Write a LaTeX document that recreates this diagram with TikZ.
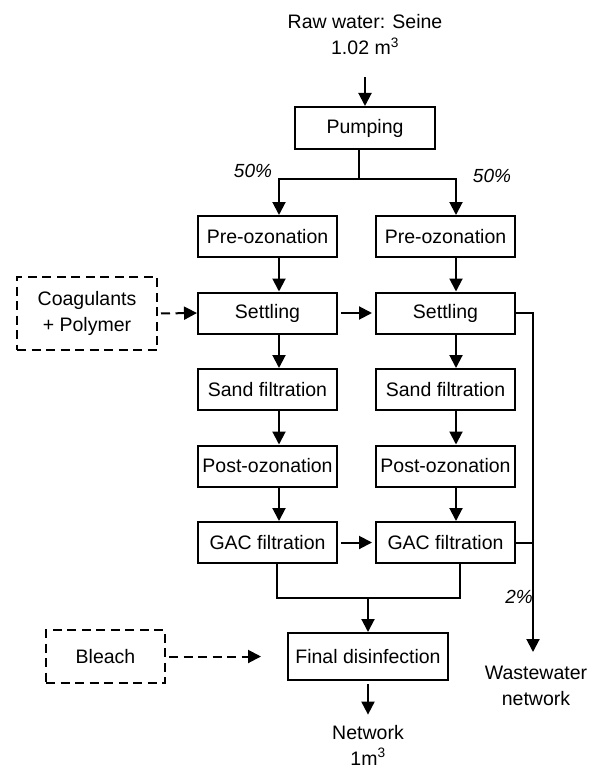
\documentclass[tikz,border=0pt]{standalone}
\usepackage{fontspec}
\setmainfont{Liberation Sans}
\usetikzlibrary{arrows.meta,positioning}

\tikzset{
  stage/.style={draw, minimum width=139pt, minimum height=41pt, inner sep=2pt},
  additive/.style={draw, dash pattern=on 9pt off 5.5pt},
  dashflow/.style={->, dash pattern=on 9pt off 5.5pt},
  pct/.style={font=\fontsize{19}{26}\selectfont\itshape},
}

\begin{document}
\begin{tikzpicture}
[x=1pt,y=-1pt,align=center,node distance=76.5pt,line width=2pt,
 >={Triangle[length=13pt,width=13pt]},font=\fontsize{19.5}{26}\selectfont]
 \useasboundingbox (0,0) rectangle (593,770);

 \node (raw) at (365,35) {Raw water: Seine\\1.02 m\textsuperscript{3}};
 \node[stage, minimum width=140pt, minimum height=42pt] (pump) at (365,128) {Pumping};

 % left line
 \node[stage] (preL) at (267.5,236.5) {Pre-ozonation};
 \node[stage] (setL) [below of=preL] {Settling};
 \node[stage] (sandL) [below of=setL] {Sand filtration};
 \node[stage] (postL) [below of=sandL] {Post-ozonation};
 \node[stage] (gacL) [below of=postL] {GAC filtration};

 % right line
 \node[stage] (preR) [node distance=178pt, right of=preL] {Pre-ozonation};
 \node[stage] (setR) [below of=preR] {Settling};
 \node[stage] (sandR) [below of=setR] {Sand filtration};
 \node[stage] (postR) [below of=sandR] {Post-ozonation};
 \node[stage] (gacR) [below of=postR] {GAC filtration};

 \node[stage, minimum width=160pt, minimum height=47pt] (final) at (368,656.5) {Final disinfection};
 \node (net) at (368,745) {Network\\1m\textsuperscript{3}};
 \node (waste) at (536,686) {Wastewater\\network};

 \node[additive, minimum width=140pt, minimum height=73pt] (coag) at (87,313.5) {Coagulants\\+ Polymer};
 \node[additive, minimum width=119pt, minimum height=53pt] (bleach) at (105.5,656.5) {Bleach};

 \node[pct] (pcL) at (253,171) {50\%};
 \node[pct] (pcR) at (492,176) {50\%};
 \node[pct] (pcW) at (519,597) {2\%};

 \coordinate (split) at (359,179);
 \coordinate (merge) at (368,598);
 \coordinate (drain) at (533,652);

 \draw[->] ([yshift=-18pt]raw.south) -- (pump.north);
 \draw ([xshift=-6pt]pump.south) -- (split);
 \draw[->] (split) -| ([xshift=11.5pt]preL.north);
 \draw[->] (split) -| ([xshift=10.5pt]preR.north);

 \draw ([xshift=11.5pt]preL.south) edge[->] ([xshift=11.5pt]setL.north);
 \draw ([xshift=11.5pt]setL.south) edge[->] ([xshift=11.5pt]sandL.north);
 \draw ([xshift=11.5pt]sandL.south) edge[->] ([xshift=11.5pt]postL.north);
 \draw ([xshift=11.5pt]postL.south) edge[->] ([xshift=11.5pt]gacL.north);

 \draw ([xshift=10.5pt]preR.south) edge[->] ([xshift=10.5pt]setR.north);
 \draw ([xshift=10.5pt]setR.south) edge[->] ([xshift=10.5pt]sandR.north);
 \draw ([xshift=10.5pt]sandR.south) edge[->] ([xshift=10.5pt]postR.north);
 \draw ([xshift=10.5pt]postR.south) edge[->] ([xshift=10.5pt]gacR.north);

 \draw (setL) edge[->, shorten <=3pt, shorten >=3pt] (setR);
 \draw (gacL) edge[->, shorten <=3pt, shorten >=3pt] (gacR);

 \draw[->] (setR.east) -| (drain);
 \draw (gacR.east) -- (gacR.east -| drain);

 \draw ([xshift=9.5pt]gacL.south) |- (merge);
 \draw ([xshift=14.5pt]gacR.south) |- (merge);
 \draw[->] (merge) -- (final.north);
 \draw[->] ([yshift=-3pt]final.south) -- ([yshift=6pt]net.north);

 \draw[dashflow, shorten <=3pt] (coag.east) -- (setL.west);
 \draw[dashflow, shorten <=3pt] (bleach.east) -- ([xshift=-26pt]final.west);
\end{tikzpicture}
\end{document}
